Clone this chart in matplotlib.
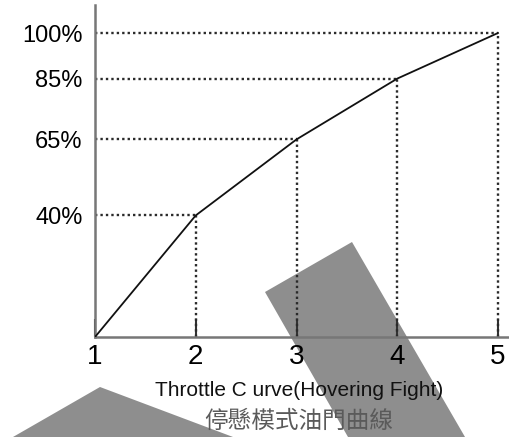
import matplotlib
matplotlib.use("Agg")
import matplotlib.pyplot as plt
from matplotlib.patches import Polygon

# throttle curve points (stick position -> throttle %)
stick_pos = [1, 2, 3, 4, 5]
throttle = [0, 40, 65, 85, 100]
y_ticks = [40, 65, 85, 100]
y_labels = ["40%", "65%", "85%", "100%"]
title_en = "Throttle C urve(Hovering Fight)"
title_zh = "停懸模式油門曲線"

plt.rcParams["font.family"] = ["Liberation Sans", "DejaVu Sans"]

fig = plt.figure(figsize=(5.09, 4.37), dpi=100)
fig.patch.set_facecolor("white")

# gray overlay shapes in the photo (figure pixel coords, y down)
W, H = 509, 437
shapes = [
    [(265, 292), (352, 242), (465, 437), (348, 437)],
    [(100, 387), (13, 437), (233, 437)],
]
for pts in shapes:
    fig.patches.append(Polygon([(x / W, 1 - y / H) for x, y in pts], closed=True,
                               transform=fig.transFigure, facecolor="#8e8e8e",
                               edgecolor="none", zorder=0))

ax = fig.add_axes([95 / W, 1 - 337 / H, 414 / W, 332 / H])
ax.patch.set_alpha(0)
ax.set_zorder(1)

ax.plot(stick_pos, throttle, color="#111111", lw=1.3, zorder=3)

dot = (0, (1, 1.3))
for x, y in zip(stick_pos[1:], throttle[1:]):
    ax.plot([1, x], [y, y], color="#2a2a2a", lw=1.7, ls=dot, zorder=2)
    ax.plot([x, x], [0, y], color="#2a2a2a", lw=1.7, ls=dot, zorder=2)

ax.set_xlim(1, 1 + 414 / 100.75)
ax.set_ylim(0, 332 / 3.04)

ax.set_xticks(stick_pos)
ax.set_xticklabels([str(s) for s in stick_pos], fontsize=20, color="black")
ax.tick_params(axis="x", direction="in", length=13, width=1.5, color="#333333", pad=5)
ax.set_yticks(y_ticks)
ax.set_yticklabels(y_labels, fontsize=17, color="black")
ax.tick_params(axis="y", length=0, pad=9)

for side in ("top", "right"):
    ax.spines[side].set_visible(False)
for side in ("left", "bottom"):
    ax.spines[side].set_color("#777777")
    ax.spines[side].set_linewidth(1.8)

fig.text(299 / W, 1 - 391 / H, title_en, fontsize=15, color="#111111",
         ha="center", va="center")
fig.text(299 / W, 1 - 421 / H, title_zh, fontsize=17, color="#5a5a5a",
         ha="center", va="center", family=["Noto Sans CJK TC", "DejaVu Sans"])

fig.savefig("out.png", dpi=100)
